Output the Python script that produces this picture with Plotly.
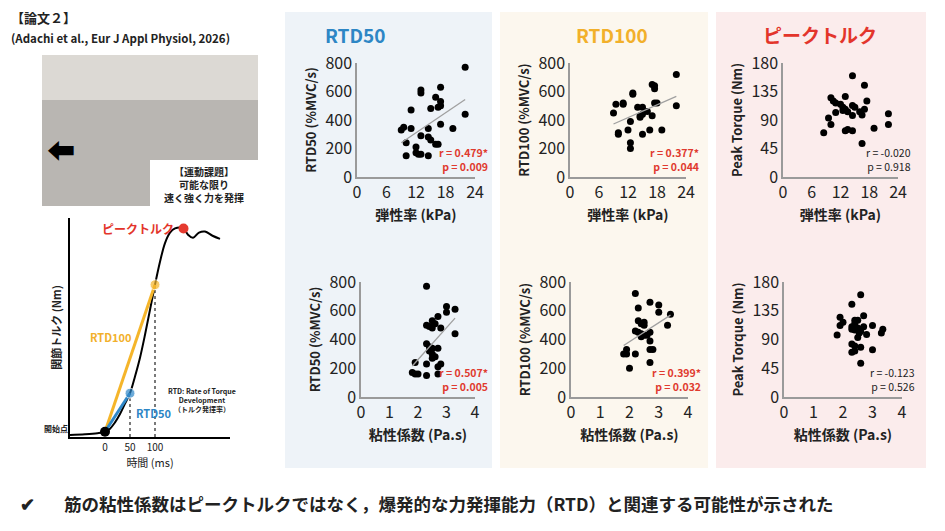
import plotly.graph_objects as go
import numpy as np

W, H = 945, 531
FONT = "Noto Sans CJK JP"
OFF = 8  # default page margin of the browser

# ---- data ----
elast_rtd50 = [22, 13, 13, 17, 16, 17, 17, 16.5, 15, 11, 22, 9.5, 9, 11, 14.5, 19.5, 17, 13, 14.5, 15, 10, 16, 16.5, 12, 12, 12.5, 13, 10, 14.5]
rtd50_e = [770, 610, 590, 630, 560, 530, 500, 490, 480, 470, 440, 350, 330, 340, 340, 340, 370, 290, 280, 260, 240, 230, 230, 210, 170, 160, 160, 150, 150]

visc_rtd50 = [2.3, 3.0, 3.3, 3.0, 2.7, 2.5, 2.6, 2.3, 2.4, 2.5, 2.8, 3.3, 2.3, 2.4, 2.5, 2.7, 2.4, 2.5, 2.6, 2.5, 1.9, 2.3, 2.8, 2.7, 1.8, 1.9, 2.0, 2.3, 2.7]
rtd50_v = [770, 630, 610, 590, 560, 530, 510, 500, 490, 480, 480, 440, 370, 350, 340, 340, 320, 300, 280, 270, 240, 230, 230, 210, 170, 160, 160, 150, 160]

elast_rtd100 = [22, 17, 17.5, 17.5, 13, 13, 9.5, 11, 11, 17.5, 18, 22, 14, 15, 16, 15, 14.5, 14.5, 17, 9, 12.5, 12, 16.5, 19, 10, 10, 15, 12.5, 12.5]
rtd100_e = [720, 650, 640, 620, 590, 580, 510, 520, 510, 520, 520, 500, 490, 490, 460, 440, 430, 420, 430, 450, 390, 330, 330, 330, 310, 300, 300, 240, 200]

visc_rtd100 = [2.2, 2.7, 3.0, 2.3, 3.0, 3.4, 2.3, 2.5, 2.4, 2.5, 3.3, 2.2, 2.3, 2.4, 2.7, 2.5, 2.6, 2.7, 1.9, 1.8, 1.9, 2.2, 2.7, 2.8, 2.7, 2.0, 2.4]
rtd100_v = [720, 660, 640, 620, 590, 575, 530, 520, 510, 500, 500, 460, 450, 440, 450, 430, 430, 390, 330, 300, 300, 300, 330, 330, 240, 200, 420]

elast_pt = [14.5, 17, 10, 13, 10.5, 17.5, 11, 12, 14.5, 15, 12.5, 13, 17, 12.5, 13.5, 16, 11, 16.5, 14.5, 22, 9.5, 10, 22, 19, 13, 13.5, 14.5, 8.5, 16.5]
pt_e = [160, 145, 125, 127, 120, 120, 117, 115, 113, 110, 110, 107, 107, 105, 103, 103, 102, 98, 97, 100, 93, 83, 83, 77, 73, 75, 73, 70, 53]

visc_pt = [2.6, 2.3, 1.9, 2.7, 2.4, 2.5, 2.0, 1.9, 2.4, 2.3, 2.5, 2.7, 3.0, 3.35, 3.3, 2.4, 2.6, 2.3, 1.8, 2.8, 2.5, 2.3, 2.4, 2.6, 2.4, 2.3, 3.0, 2.6, 2.55]
pt_v = [160, 145, 125, 127, 120, 120, 117, 112, 115, 110, 108, 110, 112, 106, 100, 105, 103, 106, 97, 98, 93, 83, 80, 78, 72, 70, 74, 53, 100]

stats = [("r = 0.479*", "p = 0.009"), ("r = 0.377*", "p = 0.044"), ("r = -0.020", "p = 0.918"),
         ("r = 0.507*", "p = 0.005"), ("r = 0.399*", "p = 0.032"), ("r = -0.123", "p = 0.526")]

# schematic torque-time curve
sch_t = [-70, -40, -15, 0, 10, 20, 30, 40, 50, 60, 70, 80, 90, 100, 110, 120, 130, 140, 150, 157, 166, 176, 188, 200, 215, 230]
sch_y = [1, 1.3, 1.8, 2.5, 4, 7, 11, 16, 21, 29, 38, 49, 61, 73, 84, 93, 98, 100, 100.5, 100, 97, 95.5, 98, 98.5, 96.5, 95]


def px(x):
    return (x - OFF) / W


def py(y):
    return 1 - (y - OFF) / H


fig = go.Figure()

# scatter panels: (x, y, xaxis range, ticks, x px domain, y px domain, axis titles, trend)
panels = [
    (elast_rtd50, rtd50_e, [0, 24], [0, 6, 12, 18, 24], [0, 200, 400, 600, 800], (357, 475), (177, 63), "弾性率 (kPa)", "RTD50 (%MVC/s)", True),
    (elast_rtd100, rtd100_e, [0, 24], [0, 6, 12, 18, 24], [0, 200, 400, 600, 800], (570, 686), (177, 63), "弾性率 (kPa)", "RTD100 (%MVC/s)", True),
    (elast_pt, pt_e, [0, 24], [0, 6, 12, 18, 24], [0, 45, 90, 135, 180], (783, 898), (177, 63), "弾性率 (kPa)", "Peak Torque (Nm)", False),
    (visc_rtd50, rtd50_v, [0, 4], [0, 1, 2, 3, 4], [0, 200, 400, 600, 800], (361, 475), (397, 282), "粘性係数 (Pa.s)", "RTD50 (%MVC/s)", True),
    (visc_rtd100, rtd100_v, [0, 4], [0, 1, 2, 3, 4], [0, 200, 400, 600, 800], (571, 688), (397, 282), "粘性係数 (Pa.s)", "RTD100 (%MVC/s)", True),
    (visc_pt, pt_v, [0, 4], [0, 1, 2, 3, 4], [0, 45, 90, 135, 180], (784, 902), (397, 282), "粘性係数 (Pa.s)", "Peak Torque (Nm)", False),
]

layout_axes = {}
for i, (xs, ys, xr, xt, yt, xd, yd, xtitle, ytitle, trend) in enumerate(panels):
    n = i + 1
    xa, ya = f"x{n}", f"y{n}"
    fig.add_trace(go.Scatter(x=xs, y=ys, mode="markers", xaxis=xa, yaxis=ya, cliponaxis=False,
                             marker=dict(color="black", size=7), showlegend=False))
    if trend:
        k, b = np.polyfit(xs, ys, 1)
        xl = np.array([min(xs), max(xs)])
        fig.add_trace(go.Scatter(x=xl, y=k * xl + b, mode="lines", xaxis=xa, yaxis=ya,
                                 line=dict(color="#a0a0a0", width=1.3), showlegend=False))
    ax = dict(domain=[px(xd[0]), px(xd[1])], range=xr, tickvals=xt, showgrid=False, zeroline=False,
              showline=True, linecolor="#9a9a9a", linewidth=1.5, ticks="", anchor=ya, automargin=False,
              tickfont=dict(size=16, color="#222", family=FONT),
              title=dict(text=f"<b>{xtitle}</b>", font=dict(size=14, color="#222", family=FONT), standoff=8))
    ay = dict(domain=[py(yd[0]), py(yd[1])], range=[0, yt[-1]], tickvals=yt, showgrid=False,
              zeroline=False, showline=True, linecolor="#9a9a9a", linewidth=1.5, ticks="", anchor=xa,
              automargin=False, tickfont=dict(size=16, color="#222", family=FONT),
              title=dict(text=f"<b>{ytitle}</b>", font=dict(size=13, color="#222", family=FONT), standoff=6))
    key = "" if n == 1 else str(n)
    layout_axes["xaxis" + key] = ax
    layout_axes["yaxis" + key] = ay
    r, p = stats[i]
    col = "#e03a2f" if trend else "#222"
    txt = f"<b>{r}<br>{p}</b>" if trend else f"{r}<br>{p}"
    fig.add_annotation(x=px(xd[1] + 15), y=py(yd[0] - 18), xref="paper", yref="paper", xanchor="right",
                       yanchor="middle", align="right", text=txt, showarrow=False,
                       font=dict(size=10.5, color=col, family=FONT))

# schematic axes
sx = dict(domain=[px(70), px(230)], range=[-70, 250], showgrid=False, zeroline=False, showline=True,
          linecolor="black", linewidth=2, ticks="", tickvals=[0, 50, 100], anchor="y7", automargin=False,
          tickfont=dict(size=10, color="#222", family=FONT),
          title=dict(text="時間 (ms)", font=dict(size=11, color="#222", family=FONT), standoff=2))
sy = dict(domain=[py(437), py(218)], range=[0, 105], showgrid=False, zeroline=False, showline=True,
          linecolor="black", linewidth=2, showticklabels=False, ticks="", anchor="x7", automargin=False,
          title=dict(text="<b>関節トルク (Nm)</b>", font=dict(size=11, color="#222", family=FONT), standoff=4))
layout_axes["xaxis7"] = sx
layout_axes["yaxis7"] = sy

fig.add_trace(go.Scatter(x=sch_t, y=sch_y, mode="lines", xaxis="x7", yaxis="y7", showlegend=False,
                         line=dict(color="black", width=2, shape="spline"), cliponaxis=False))
for tx, ty, c in [(100, 73, "#f5b52a"), (50, 21, "#2f87c8")]:
    fig.add_trace(go.Scatter(x=[tx, tx], y=[0, ty], mode="lines", xaxis="x7", yaxis="y7", showlegend=False,
                             line=dict(color="#333", width=1.3, dash="dot")))
    fig.add_trace(go.Scatter(x=[0, tx], y=[2.5, ty], mode="lines+markers", xaxis="x7", yaxis="y7",
                             showlegend=False, line=dict(color=c, width=3),
                             marker=dict(color=c, size=[0, 10])))
fig.add_trace(go.Scatter(x=[0, 157], y=[2.5, 100], mode="markers", xaxis="x7", yaxis="y7", showlegend=False,
                         cliponaxis=False, marker=dict(color=["black", "#e53a2f"], size=10)))

fig.update_layout(**layout_axes)

# background panels
shapes = [
    dict(type="rect", xref="paper", yref="paper", x0=px(285), x1=px(492), y0=py(468), y1=py(12),
         fillcolor="#eef3f8", line=dict(width=0), layer="below"),
    dict(type="rect", xref="paper", yref="paper", x0=px(500), x1=px(708), y0=py(468), y1=py(12),
         fillcolor="#fcf7ee", line=dict(width=0), layer="below"),
    dict(type="rect", xref="paper", yref="paper", x0=px(716), x1=px(926), y0=py(468), y1=py(12),
         fillcolor="#fbecec", line=dict(width=0), layer="below"),
    # photo placeholder
    dict(type="rect", xref="paper", yref="paper", x0=px(42), x1=px(258), y0=py(206), y1=py(55),
         fillcolor="#b9b6b2", line=dict(width=0), layer="below"),
    dict(type="rect", xref="paper", yref="paper", x0=px(42), x1=px(258), y0=py(100), y1=py(55),
         fillcolor="#dcd9d4", line=dict(width=0), layer="below"),
    dict(type="rect", xref="paper", yref="paper", x0=px(150), x1=px(258), y0=py(206), y1=py(160),
         fillcolor="white", line=dict(width=0), layer="below"),
]
fig.update_layout(shapes=shapes)


def note(x, y, text, size, color="#222", anchor="left", angle=0):
    fig.add_annotation(x=px(x), y=py(y), xref="paper", yref="paper", xanchor=anchor, yanchor="middle",
                       text=text, showarrow=False, textangle=angle, font=dict(size=size, color=color, family=FONT))


note(9, 18, "<b>【論文２】</b>", 13)
note(9, 38, "<b>(Adachi et al., Eur J Appl Physiol, 2026)</b>", 11.5)
note(45, 150, "<b>⬅</b>", 28, "black")
note(204, 184, "<b>【運動課題】<br>可能な限り<br>速く強く力を発揮</b>", 10, anchor="center")

note(355, 35, "<b>RTD50</b>", 19, "#2d86c5", "center")
note(612, 35, "<b>RTD100</b>", 19, "#f2b02b", "center")
note(820, 35, "<b>ピークトルク</b>", 19, "#e3352b", "center")

note(100, 228, "<b>ピークトルク</b>", 12, "#e3352b")
note(88, 337, "<b>RTD100</b>", 11, "#f2b02b")
note(134, 413, "<b>RTD50</b>", 11, "#2d86c5")
note(202, 400, "<b>RTD: Rate of Torque<br>Development<br>（トルク発揮率）</b>", 7, anchor="center")
note(42, 428, "<b>開始点</b>", 8)

note(18, 503, "<b>✔</b>", 18)
note(62, 503, "<b>筋の粘性係数はピークトルクではなく，爆発的な力発揮能力（RTD）と関連する可能性が示された</b>", 17.5)

fig.update_layout(width=W, height=H, margin=dict(l=0, r=0, t=0, b=0),
                  paper_bgcolor="white", plot_bgcolor="rgba(0,0,0,0)",
                  font=dict(family=FONT))
fig.write_html("out.html")
